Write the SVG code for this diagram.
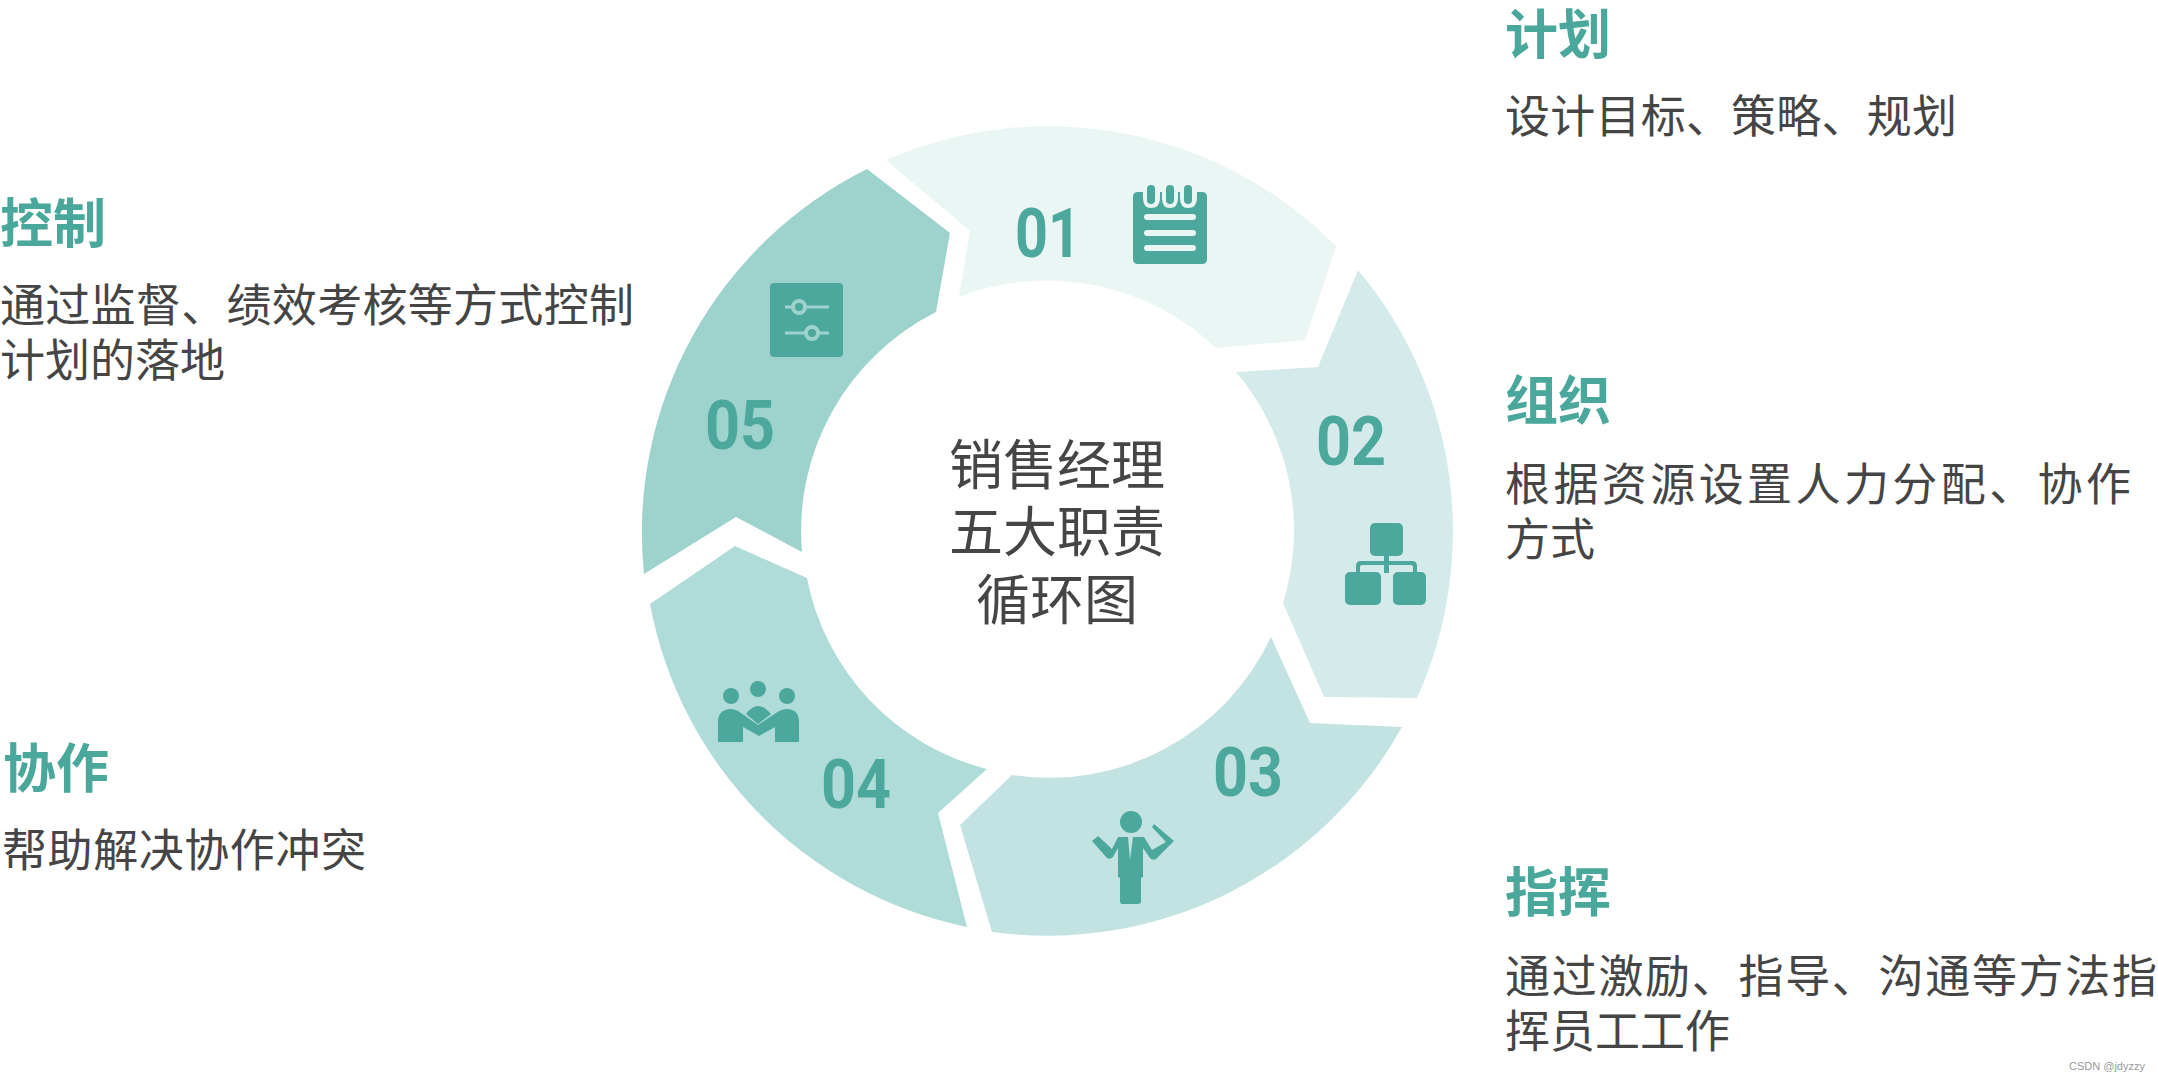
<svg xmlns="http://www.w3.org/2000/svg" width="2158" height="1082" viewBox="0 0 2158 1082">
<style>
.t{font-family:"Noto Sans CJK SC","Liberation Sans",sans-serif;font-size:53px;font-weight:700;fill:#4aa79b}
.b{font-family:"Noto Sans CJK SC","Liberation Sans",sans-serif;font-size:45px;fill:#454545}
.c{font-family:"Noto Sans CJK SC","Liberation Sans",sans-serif;font-size:54px;fill:#454545;text-anchor:middle}
.n{font-family:"Roboto","Liberation Sans",sans-serif;font-size:68px;font-weight:700;fill:#4ca79c}
.i{fill:#4ca79c}
</style>
<rect width="2158" height="1082" fill="#fff"/>
<g id="seg-01"><path fill="#e9f6f4" d="M886 160A406 406 0 0 1 1336 246L1305 340L1216 348A245 245 0 0 0 959 297L970 231Z"/>
<text class="n" x="1015" y="257" textLength="66" lengthAdjust="spacingAndGlyphs">01</text>
<g class="i"><path d="M1133 197Q1133 192 1138 192H1143V198Q1143 208 1151 208Q1160 208 1160 198V192H1162V198Q1162 208 1170 208Q1178 208 1178 198V192H1180V198Q1180 208 1188 208Q1197 208 1197 198V192H1202Q1207 192 1207 197V259Q1207 264 1202 264H1138Q1133 264 1133 259Z"/>
<rect x="1147" y="185" width="8" height="19" rx="4"/><rect x="1166" y="185" width="8" height="19" rx="4"/><rect x="1184" y="185" width="8" height="19" rx="4"/></g>
<g fill="#e9f6f4"><rect x="1144" y="214" width="52" height="6" rx="3"/><rect x="1144" y="230" width="52" height="6" rx="3"/><rect x="1144" y="245" width="52" height="6" rx="3"/></g></g>
<g id="seg-02"><path fill="#d5eaea" d="M1358 270A406 406 0 0 1 1417 698L1324 697L1283 603A245 245 0 0 0 1236 372L1318 367Z"/>
<text class="n" x="1316" y="465" textLength="70" lengthAdjust="spacingAndGlyphs">02</text>
<g class="i"><rect x="1370" y="523" width="33" height="33" rx="5"/><rect x="1345" y="572" width="36" height="33" rx="5"/><rect x="1393" y="572" width="33" height="33" rx="5"/>
<path d="M1384 555H1389V561H1412Q1417 561 1417 566V573H1413V567Q1413 565 1411 565H1389V573H1384V565H1362Q1360 565 1360 567V573H1356V566Q1356 561 1361 561H1384Z"/></g></g>
<g id="seg-03"><path fill="#c2e3e1" d="M1271 637L1310 723L1402 727A406 406 0 0 1 992 932L960 825L1012 775A245 245 0 0 0 1271 637Z"/>
<text class="n" x="1213" y="796" textLength="70" lengthAdjust="spacingAndGlyphs">03</text>
<g class="i"><circle cx="1131" cy="822" r="11"/>
<path d="M1092 841L1098 836L1112 849L1118 837H1128L1130 860L1133 837H1144L1152 850L1166 842L1152 827L1154 824L1174 841L1156 859Q1153 861 1150 858L1143 848V877L1141 878V901Q1141 904 1138 904H1122Q1120 904 1120 901V878L1118 877V848L1113 857Q1110 860 1107 858Z"/></g></g>
<g id="seg-04"><path fill="#afdcd9" d="M650 604L735 546L807 578A245 245 0 0 0 987 769L938 813L967 927A406 406 0 0 1 650 604Z"/>
<text class="n" x="821" y="808" textLength="70" lengthAdjust="spacingAndGlyphs">04</text>
<g class="i"><circle cx="731" cy="696" r="8"/><circle cx="758" cy="689" r="8"/><circle cx="787" cy="696" r="8"/>
<path d="M746 714Q758 698 771 714L758 724Z"/>
<path d="M718 742V722Q718 710 730 709Q736 709 741 713L758 725L776 713Q781 709 788 709Q799 710 799 722V742H775V727L759 736L743 727V742Z"/></g></g>
<g id="seg-05"><path fill="#9dd2cd" d="M867 169L950 233L936 312A245 245 0 0 0 802 552L736 517L644 574A406 406 0 0 1 867 169Z"/>
<text class="n" x="705" y="449" textLength="70" lengthAdjust="spacingAndGlyphs">05</text>
<rect class="i" x="770" y="283" width="73" height="74" rx="4"/>
<g fill="none" stroke="#9dd2cd"><path d="M785 307H829M785 333H829" stroke-width="3"/><circle cx="799" cy="307" r="6" stroke-width="4" fill="#4ca79c"/><circle cx="812" cy="333" r="6" stroke-width="4" fill="#4ca79c"/></g></g>
<g id="center"><text class="c" x="1057" y="485">销售经理</text><text class="c" x="1057" y="552">五大职责</text><text class="c" x="1057" y="620">循环图</text></g>
<g id="label-01"><text class="t" x="1505" y="54">计划</text><text class="b" x="1505" y="133" textLength="452">设计目标、策略、规划</text></g>
<g id="label-02"><text class="t" x="1505" y="420">组织</text><text class="b" x="1505" y="501" textLength="626">根据资源设置人力分配、协作</text><text class="b" x="1505" y="556">方式</text></g>
<g id="label-03"><text class="t" x="1505" y="912">指挥</text><text class="b" x="1505" y="993" textLength="652">通过激励、指导、沟通等方法指</text><text class="b" x="1505" y="1048">挥员工工作</text></g>
<g id="label-05"><text class="t" x="0" y="243">控制</text><text class="b" x="0" y="322" textLength="634">通过监督、绩效考核等方式控制</text><text class="b" x="0" y="377">计划的落地</text></g>
<g id="label-04"><text class="t" x="3" y="788">协作</text><text class="b" x="2" y="867" textLength="364">帮助解决协作冲突</text></g>
<text x="2069" y="1070" font-family="Liberation Sans, sans-serif" font-size="11" fill="#9a9a9a">CSDN @jdyzzy</text>
</svg>
